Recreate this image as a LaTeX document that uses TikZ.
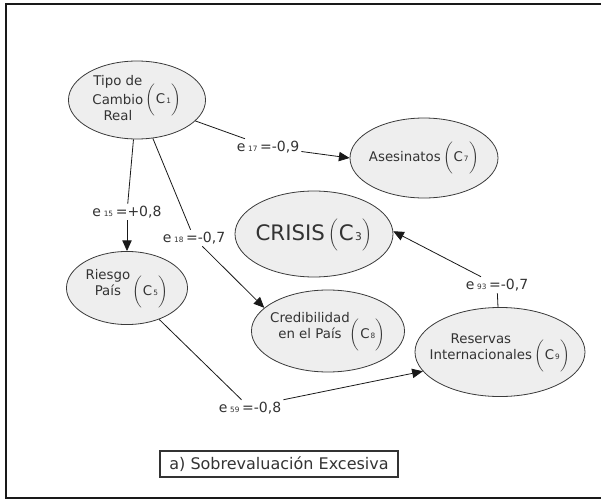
\documentclass[tikz,border=0pt]{standalone}
\usepackage{fontspec}
\setmainfont{DejaVu Sans}
\usetikzlibrary{arrows.meta,shapes.geometric}

\definecolor{ink}{HTML}{333333}
\definecolor{rim}{HTML}{3A3A3A}
\definecolor{conceptfill}{HTML}{EEEEEE}

% concept index such as (C_1), with tall thin brackets
\newcommand{\cidx}[1]{$\bigg($\kern0.5pt C\kern0.8pt{\fontsize{5.5}{5.5}\selectfont #1}\kern0.5pt$\bigg)$}
\newcommand{\cidxbig}[1]{$\Bigg($\kern0.5pt C\kern1pt{\fontsize{8}{8}\selectfont #1}\kern0.5pt$\Bigg)$}
% edge weight label e_{ij}=value
\newcommand{\wlab}[2]{e\kern2pt{\fontsize{5.5}{5.5}\selectfont #1}\kern2pt=#2}

\tikzset{
  concept/.style={ellipse, draw=rim, fill=conceptfill, line width=0.6pt,
    inner sep=0pt, text=ink, font=\fontsize{10}{12}\selectfont},
  weight/.style={fill=white, inner sep=1.5pt, text=ink,
    font=\fontsize{10.5}{12}\selectfont},
  link/.style={draw=black!90, line width=0.6pt},
  arr/.style={link, -{Triangle[length=8pt,width=7pt]}},
  frameline/.style={line width=1.6pt, draw=black!90},
  captionbox/.style={draw=ink, line width=0.9pt, inner sep=0pt, text=ink,
    font=\fontsize{12}{14}\selectfont, minimum width=178.5pt, minimum height=19.5pt}
}

\begin{document}
\begin{tikzpicture}[x=0.75pt,y=-0.75pt]
  \useasboundingbox (0,0) rectangle (601,500);

  % outer frame (right side runs off the page)
  \draw[frameline] (606,4) -- (6,4) -- (6,498) -- (606,498);

  % concepts
  \node[concept, minimum width=102.8pt, minimum height=58.5pt] (c1) at (137,100)
    {\makebox[0pt]{\begin{tabular}{@{}c@{}}Tipo de\\[2pt]Cambio\\Real\end{tabular}\,\cidx{1}}};
  \node[concept, minimum width=111pt, minimum height=60pt] (c7) at (424,158)
    {\makebox[0pt]{Asesinatos\,\cidx{7}}};
  \node[concept, minimum width=118.5pt, minimum height=64.5pt, font=\fontsize{16}{18}\selectfont] (c3) at (314,234)
    {\makebox[0pt]{CRISIS\,\cidxbig{3}}};
  \node[concept, minimum width=90.8pt, minimum height=54.8pt] (c5) at (127,288)
    {\makebox[0pt]{\begin{tabular}[b]{@{}c@{}}Riesgo\\País\end{tabular}\,\cidx{5}}};
  \node[concept, minimum width=114.8pt, minimum height=61.5pt] (c8) at (328,331)
    {\makebox[0pt]{\begin{tabular}[b]{@{}c@{}}Credibilidad\\en el País\end{tabular}\cidx{8}}};
  \node[concept, minimum width=127.5pt, minimum height=66.8pt] (c9) at (500,352)
    {\makebox[0pt]{\begin{tabular}[b]{@{}c@{}}Reservas\\Internacionales\end{tabular}\,\cidx{9}}};

  % edge weights
  \node[weight] (l17) at (268,147) {\wlab{17}{-0,9}};
  \node[weight] (l15) at (127,212) {\wlab{15}{+0,8}};
  \node[weight] (l18) at (194,238) {\wlab{18}{-0,7}};
  \node[weight] (l59) at (250,408) {\wlab{59}{-0,8}};
  \node[weight] (l93) at (497,285) {\wlab{93}{-0,7}};

  % causal links
  \draw[link] (c1) -- (l17);
  \draw[arr]  (l17) -- (c7.west);
  \draw[link] (c1) -- (l15);
  \draw[arr]  (l15) -- (c5);
  \draw[link] (c1) -- (l18);
  \draw[arr]  (l18) -- (c8.160);
  \draw[link] (c5) -- (l59);
  \draw[arr]  (l59.north east) -- (c9.194);
  \draw[link] (c9) -- (l93);
  \draw[arr]  (l93) -- (c3.2);

  % caption
  \node[captionbox] (cap) at (279,464) {a) Sobrevaluación Excesiva};
\end{tikzpicture}
\end{document}
